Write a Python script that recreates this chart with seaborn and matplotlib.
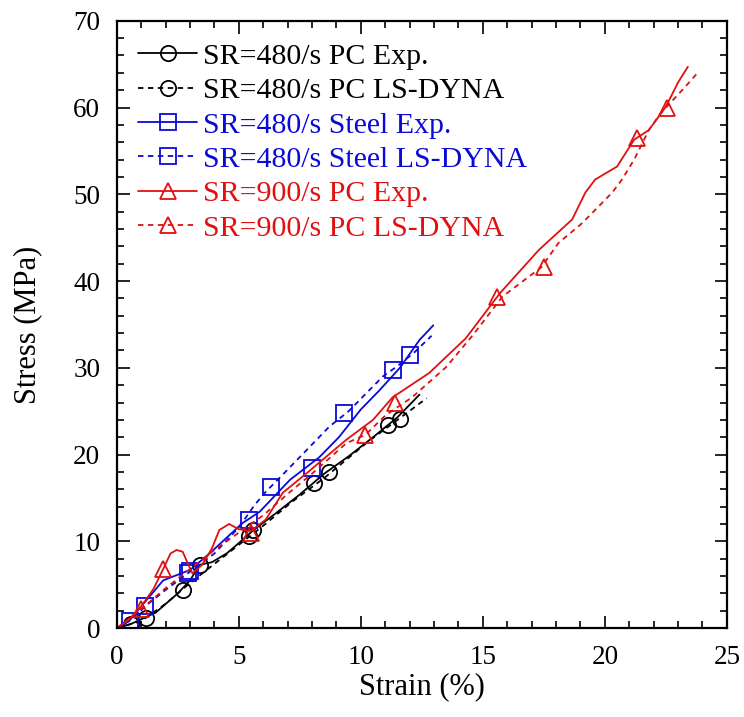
import numpy as np
import pandas as pd
import matplotlib
matplotlib.use("Agg")
import matplotlib.pyplot as plt
from matplotlib.lines import Line2D
from matplotlib.ticker import MultipleLocator
import seaborn as sns

# ---------------- data ----------------
pc480_exp_x = [0, 0.6, 1.6, 2.5, 3.0, 3.4, 3.9, 4.5, 5.0, 5.6, 6.5, 7.5, 8.5, 9.5, 10.5, 11.5, 12.4]
pc480_exp_y = [0, 0.5, 1.8, 4.0, 5.5, 7.3, 7.6, 8.6, 9.8, 11.3, 13.2, 15.4, 17.8, 19.8, 22.0, 24.3, 26.9]
pc480_exp_mx = [1.2, 3.4, 5.6, 8.7, 11.6]
pc480_exp_my = [1.2, 7.3, 11.3, 18.0, 24.1]

pc480_dyna_x = [0, 1.0, 2.0, 3.0, 4.0, 5.0, 6.0, 7.2, 8.5, 10.3, 11.5, 12.7]
pc480_dyna_y = [0, 0.8, 2.8, 5.2, 7.4, 9.6, 11.8, 14.6, 17.3, 21.5, 24.0, 26.5]
pc480_dyna_mx = [0.6, 2.7, 5.4, 8.1, 11.1]
pc480_dyna_my = [0.5, 4.4, 10.6, 16.7, 23.4]

st480_exp_x = [0, 0.5, 1.06, 1.9, 3.0, 3.8, 5.15, 5.85, 7.1, 8.3, 9.1, 10.0, 10.76, 11.6, 12.4, 12.97]
st480_exp_y = [0, 0.8, 2.7, 5.5, 6.7, 8.6, 12.1, 13.4, 17.1, 19.7, 22.0, 25.2, 27.4, 30.0, 33.2, 34.9]
st480_exp_mx = [1.15, 3.0, 5.4, 8.0, 12.0]
st480_exp_my = [2.5, 6.6, 12.5, 18.5, 31.5]

st480_dyna_x = [0, 0.6, 1.2, 2.0, 3.0, 4.0, 5.0, 5.65, 6.1, 6.7, 7.6, 8.7, 9.5, 10.9, 11.5, 12.2, 12.9]
st480_dyna_y = [0, 1.0, 2.6, 4.4, 6.5, 8.6, 11.6, 14.2, 15.7, 17.4, 20.0, 23.2, 25.0, 29.0, 30.2, 31.8, 33.7]
st480_dyna_mx = [0.55, 2.9, 6.3, 9.33, 11.3]
st480_dyna_my = [0.8, 6.3, 16.3, 24.8, 29.8]

pc900_exp_x = [0, 0.5, 1.0, 1.5, 1.9, 2.2, 2.45, 2.7, 2.95, 3.1, 3.5, 3.9, 4.2, 4.6, 5.0, 5.5, 6.1, 6.8,
               7.8, 9.4, 10.5, 11.3, 12.8, 14.3, 15.7, 17.3, 18.66, 19.2, 19.6, 20.5, 21.2, 21.8, 22.5, 23.0, 23.4]
pc900_exp_y = [0, 1.0, 2.5, 4.5, 6.8, 8.6, 9.0, 8.8, 7.2, 6.3, 7.3, 9.2, 11.3, 12.0, 11.4, 11.2, 12.5, 15.6,
               17.9, 21.7, 24.0, 26.6, 29.4, 33.4, 38.6, 43.6, 47.1, 50.2, 51.7, 53.2, 56.3, 57.4, 60.1, 62.9, 64.7]
pc900_exp_mx = [1.9, 11.4, 15.6, 21.3, 22.55]
pc900_exp_my = [6.8, 26.0, 38.2, 56.5, 60.0]

pc900_dyna_x = [0, 1.0, 2.0, 3.0, 4.0, 5.0, 6.0, 7.1, 8.0, 9.4, 10.2, 11.0, 12.1, 13.5, 14.6,
                15.8, 17.4, 18.1, 19.0, 19.5, 20.3, 20.7, 21.2, 21.8, 22.3, 23.2, 23.8]
pc900_dyna_y = [0, 2.2, 4.6, 6.8, 9.0, 11.0, 13.0, 15.7, 17.8, 21.3, 22.3, 24.5, 26.6, 30.1, 33.8,
                38.2, 41.6, 44.4, 46.5, 47.9, 50.2, 51.7, 54.0, 57.4, 59.4, 62.1, 64.0]
pc900_dyna_mx = [1.0, 5.5, 10.15, 17.5]
pc900_dyna_my = [2.2, 11.0, 22.3, 41.6]

labels = ["SR=480/s PC Exp.", "SR=480/s PC LS-DYNA", "SR=480/s Steel Exp.",
          "SR=480/s Steel LS-DYNA", "SR=900/s PC Exp.", "SR=900/s PC LS-DYNA"]

# ---------------- style ----------------
sns.set_style("ticks")
plt.rcParams["font.family"] = ["Liberation Serif", "DejaVu Serif"]
plt.rcParams["text.color"] = "black"
plt.rcParams["axes.labelcolor"] = "black"

BLACK = "#000000"
BLUE = "#0a0ad8"
RED = "#e01010"
DASH = (0, (3, 2.5))

fig = plt.figure(figsize=(7.44, 7.17), dpi=100)
ax = fig.add_axes([0.157, 0.124, 0.82, 0.847])

series = [
    (pc480_exp_x, pc480_exp_y, pc480_exp_mx, pc480_exp_my, BLACK, "-", "o"),
    (pc480_dyna_x, pc480_dyna_y, pc480_dyna_mx, pc480_dyna_my, BLACK, DASH, "o"),
    (st480_exp_x, st480_exp_y, st480_exp_mx, st480_exp_my, BLUE, "-", "s"),
    (st480_dyna_x, st480_dyna_y, st480_dyna_mx, st480_dyna_my, BLUE, DASH, "s"),
    (pc900_exp_x, pc900_exp_y, pc900_exp_mx, pc900_exp_my, RED, "-", "^"),
    (pc900_dyna_x, pc900_dyna_y, pc900_dyna_mx, pc900_dyna_my, RED, DASH, "^"),
]

MS = 11
handles = []
for (x, y, mx, my, c, ls, mk), lab in zip(series, labels):
    df = pd.DataFrame({"x": x, "y": y})
    sns.lineplot(data=df, x="x", y="y", sort=False, estimator=None, ax=ax,
                 color=c, linewidth=1.3, linestyle=ls)
    ax.plot(mx, my, linestyle="none", marker=mk, markersize=MS,
            markerfacecolor="none", markeredgecolor=c, markeredgewidth=1.3)
    handles.append(Line2D([], [], color=c, linestyle=ls, linewidth=1.3, marker=mk,
                          markersize=MS, markerfacecolor="none",
                          markeredgecolor=c, markeredgewidth=1.3))

ax.set_xlim(0, 25)
ax.set_ylim(0, 70)
ax.xaxis.set_major_locator(MultipleLocator(5))
ax.xaxis.set_minor_locator(MultipleLocator(1))
ax.yaxis.set_major_locator(MultipleLocator(10))
ax.yaxis.set_minor_locator(MultipleLocator(2))
ax.tick_params(which="both", direction="in", top=True, right=True, width=1.2,
               labelsize=19.5, colors="black")
ax.tick_params(axis="y", which="major", length=9, pad=12)
ax.tick_params(axis="x", which="major", length=9, pad=12)
ax.tick_params(which="minor", length=5)
for s in ax.spines.values():
    s.set_linewidth(1.6)
    s.set_color("black")

ax.set_xlabel("Strain (%)", fontsize=22, labelpad=2)
ax.set_ylabel("Stress (MPa)", fontsize=22, labelpad=22)

leg = ax.legend(handles, labels, loc="upper left", bbox_to_anchor=(0.0, 0.998),
                frameon=False, fontsize=21.5, handlelength=2.0, handletextpad=0.2,
                labelspacing=0.25, borderaxespad=0.3)
for t, (_, _, _, _, c, _, _) in zip(leg.get_texts(), series):
    t.set_color(c)

fig.savefig("out.png", dpi=100)
